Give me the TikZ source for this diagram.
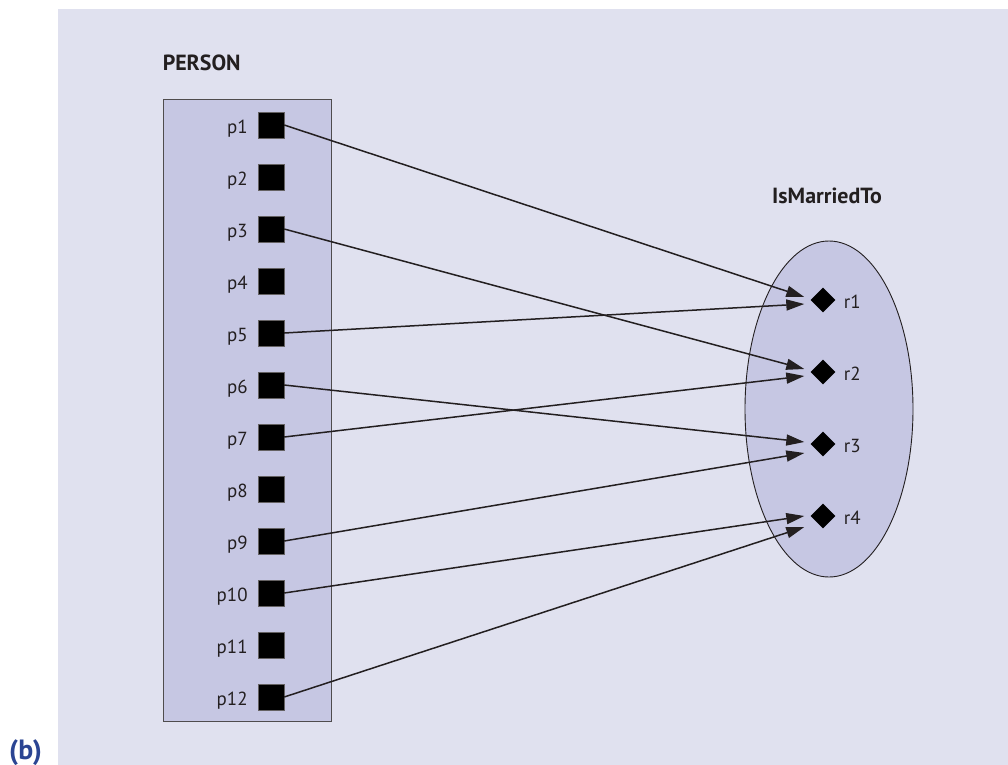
\documentclass[tikz,border=0pt]{standalone}
\usepackage{fontspec}
\setmainfont{PT Sans}
\usetikzlibrary{arrows.meta,calc,positioning,shapes.geometric}
\definecolor{bgpage}{HTML}{E0E1EF}
\definecolor{setfill}{HTML}{C6C7E3}
\definecolor{ink}{HTML}{231F20}
\definecolor{tagblue}{HTML}{2B4593}
\tikzset{
  elem/.style={draw=ink!70,fill=black,minimum size=26bp,inner sep=0pt},
  rel/.style={diamond,fill=black,minimum size=25bp,inner sep=0pt},
  lbl/.style={font=\fontsize{19}{21}\selectfont,text=ink,inner sep=0pt,text height=16bp,text depth=0pt},
  ttl/.style={font=\fontsize{22}{24}\selectfont\bfseries,text=ink,inner sep=0pt},
  arr/.style={-{Triangle[length=18bp,width=11bp]},line width=1.5bp,draw=ink}
}
\begin{document}
\begin{tikzpicture}[x=1bp,y=-1bp]
\useasboundingbox (0,0) rectangle (1008,765);
\fill[bgpage] (58,9) rectangle (1008,765);
\node[tagblue,font=\fontsize{28}{30}\selectfont\bfseries,inner sep=0pt,anchor=base west] (tag) at (9,759) {(b)};
% the set PERSON
\node[draw=ink!80,fill=setfill,line width=0.9bp,minimum width=168bp,minimum height=622bp,inner sep=0pt] (person) at (247,410) {};
\node[ttl,anchor=base west] (persontitle) at ($(person.north west)+(0,-28)$) {PERSON};
\node[elem] (p1) at (271,125) {};
\node[elem] (p2) at (271,177) {};
\node[elem] (p3) at (271,229) {};
\node[elem] (p4) at (271,281) {};
\node[elem] (p5) at (271,333) {};
\node[elem] (p6) at (271,385) {};
\node[elem] (p7) at (271,437) {};
\node[elem] (p8) at (271,489) {};
\node[elem] (p9) at (271,541) {};
\node[elem] (p10) at (271,593) {};
\node[elem] (p11) at (271,645) {};
\node[elem] (p12) at (271,697) {};
\node[lbl,left=10bp of p1] {p1};
\node[lbl,left=10bp of p2] {p2};
\node[lbl,left=10bp of p3] {p3};
\node[lbl,left=10bp of p4] {p4};
\node[lbl,left=10bp of p5] {p5};
\node[lbl,left=10bp of p6] {p6};
\node[lbl,left=10bp of p7] {p7};
\node[lbl,left=10bp of p8] {p8};
\node[lbl,left=10bp of p9] {p9};
\node[lbl,left=10bp of p10] {p10};
\node[lbl,left=10bp of p11] {p11};
\node[lbl,left=10bp of p12] {p12};
% the relationship set
\node[ellipse,draw=ink,fill=setfill,line width=0.9bp,minimum width=168bp,minimum height=336bp,inner sep=0pt] (married) at (829,409) {};
\node[ttl,anchor=base] (marriedtitle) at ($(married.north)+(-2,-37)$) {IsMarriedTo};
\node[rel] (r1) at (823,300) {};
\node[rel] (r2) at (823,372) {};
\node[rel] (r3) at (823,444) {};
\node[rel] (r4) at (823,516) {};
\node[lbl,right=8bp of r1] {r1};
\node[lbl,right=8bp of r2] {r2};
\node[lbl,right=8bp of r3] {r3};
\node[lbl,right=8bp of r4] {r4};
\draw[arr] (p1.east) -- ($(r1.west)+(-6,-3)$);
\draw[arr] (p5.east) -- ($(r1.west)+(-6,4)$);
\draw[arr] (p3.east) -- ($(r2.west)+(-6,-3)$);
\draw[arr] (p7.east) -- ($(r2.west)+(-6,4)$);
\draw[arr] (p6.east) -- ($(r3.west)+(-6,-2)$);
\draw[arr] (p9.east) -- ($(r3.west)+(-6,9)$);
\draw[arr] (p10.east) -- ($(r4.west)+(-6,0)$);
\draw[arr] (p12.east) -- ($(r4.west)+(-6,11)$);
\end{tikzpicture}
\end{document}
